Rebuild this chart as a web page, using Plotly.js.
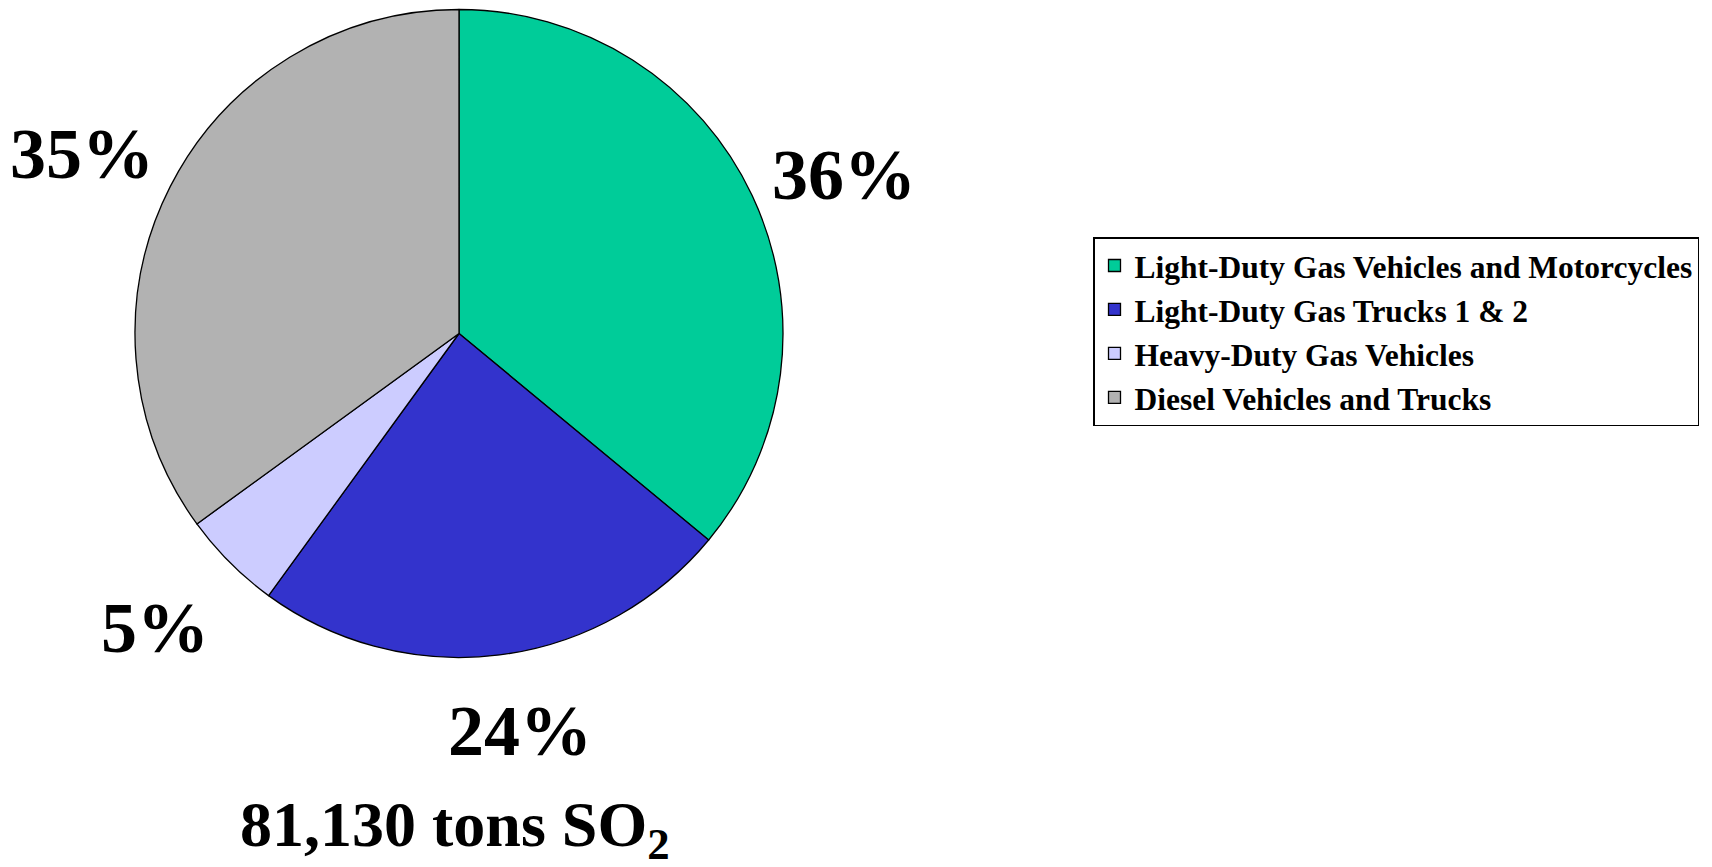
<!DOCTYPE html>
<html>
<head>
<meta charset="utf-8">
<script src="https://cdn.plot.ly/plotly-3.0.1.min.js"></script>
<style>html,body{margin:0;padding:0;background:#fff;}#chart{width:1712px;height:867px;}</style>
</head>
<body>
<div id="chart"></div>
<script>
const categories = [
  "Light-Duty Gas Vehicles and Motorcycles",
  "Light-Duty Gas Trucks 1 & 2",
  "Heavy-Duty Gas Vehicles",
  "Diesel Vehicles and Trucks"
];
const shares = [36, 24, 5, 35];
const sliceColors = ["#00CC99", "#3333CC", "#CCCCFF", "#B2B2B2"];
const totalLabel = "81,130 tons SO<sub>2</sub>";

const serif = "'Liberation Serif', 'Times New Roman', Times, serif";
const W = 1712, H = 867;

// label positions (paper coordinates) for each slice's percentage
const labelPos = [[0.493, 0.798], [0.304, 0.157], [0.0905, 0.276], [0.048, 0.822]];

const annotations = shares.map((v, i) => ({
  text: v + "%",
  x: labelPos[i][0], y: labelPos[i][1],
  xref: "paper", yref: "paper",
  xanchor: "center", yanchor: "middle",
  showarrow: false,
  font: {family: serif, size: 72, color: "#000", weight: "bold"}
}));
annotations.push({
  text: totalLabel,
  x: 0.2658, y: 0.044, xref: "paper", yref: "paper",
  xanchor: "center", yanchor: "middle", showarrow: false,
  font: {family: serif, size: 64, color: "#000", weight: "bold"}
});

const trace = {
  type: "pie",
  labels: categories,
  values: shares,
  sort: false,
  direction: "clockwise",
  rotation: 0,
  textinfo: "none",
  hoverinfo: "label+percent",
  marker: {colors: sliceColors, line: {color: "#000", width: 1.3}},
  domain: {x: [135 / W, 783 / W], y: [1 - 658 / H, 1 - 9 / H]}
};

const layout = {
  width: W, height: H,
  margin: {l: 0, r: 0, t: 0, b: 0},
  paper_bgcolor: "#fff",
  showlegend: true,
  legend: {
    x: 1093 / W, y: 1 - 237 / H, xanchor: "left", yanchor: "top",
    bgcolor: "#fff", bordercolor: "#000", borderwidth: 1.5,
    font: {family: serif, size: 31.5, color: "#000", weight: "bold"},
    traceorder: "normal"
  },
  annotations: annotations
};

Plotly.newPlot("chart", [trace], layout, {displayModeBar: false, staticPlot: true});
</script>
</body>
</html>
